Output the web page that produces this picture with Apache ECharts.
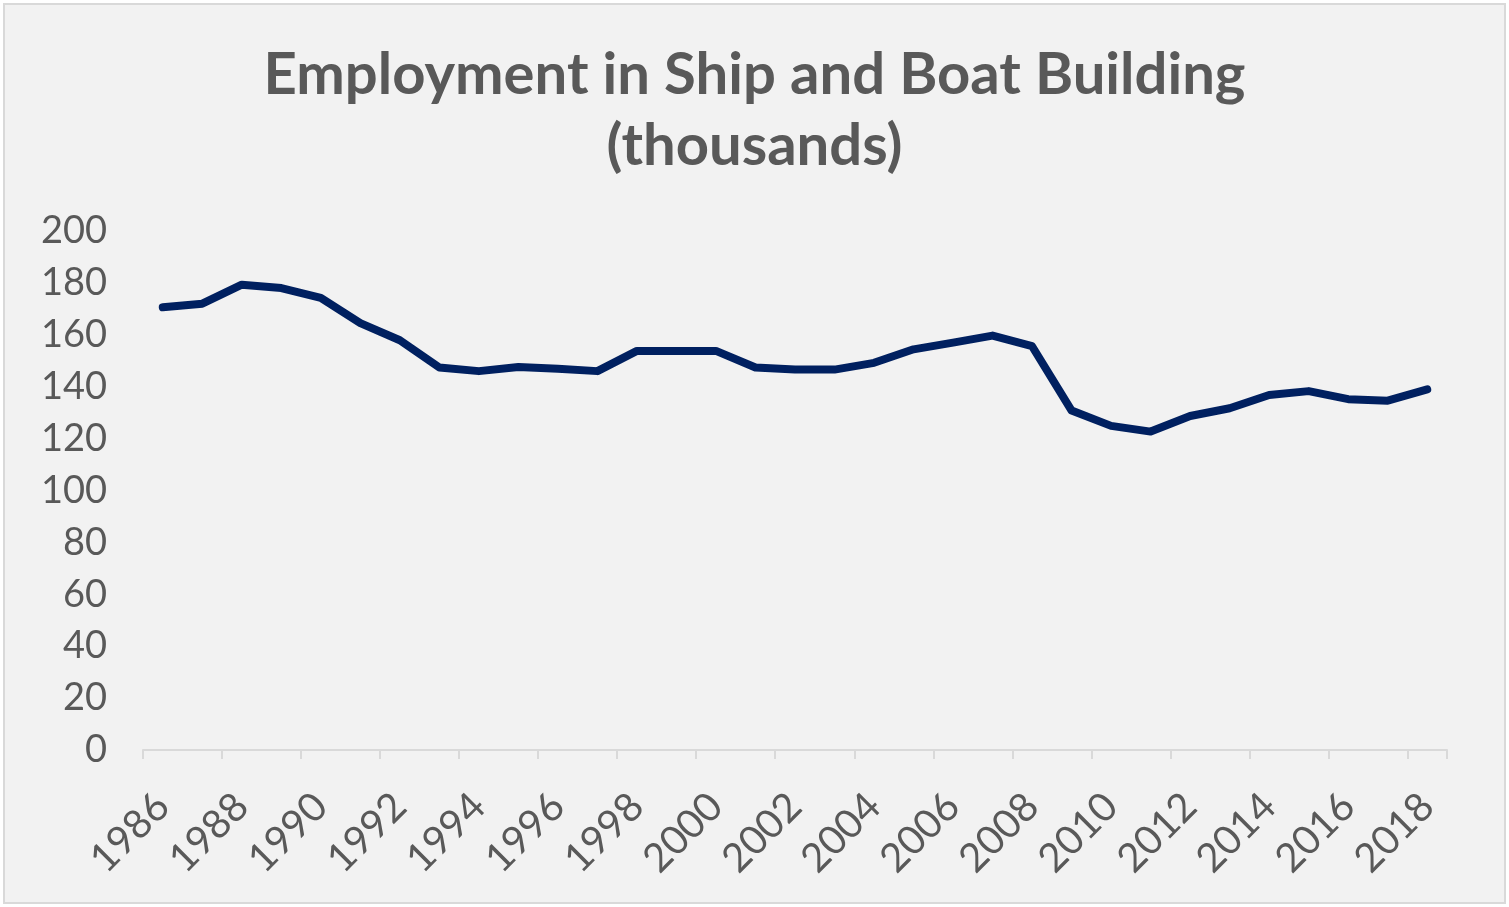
<!DOCTYPE html>
<html>
<head>
<meta charset="utf-8">
<script src="https://cdn.jsdelivr.net/npm/echarts@6/dist/echarts.min.js"></script>
<style>
  html, body { margin: 0; padding: 0; background: #ffffff; }
  #chart { position: absolute; left: 3px; top: 3px; width: 1503px; height: 901px; border: 2px solid #d9d9d9; box-sizing: border-box; background: #f2f2f2; }
</style>
</head>
<body>
<div id="chart"></div>
<script>
// years on the x axis
const years = []
for (let y = 1986; y <= 2018; y++) years.push(String(y))
// employment, thousands
const employment = [
  170.6, 172, 179.3, 178, 174.2, 164.5, 157.9, 147.4, 146, 147.6,
  146.9, 146, 153.8, 153.8, 153.8, 147.4, 146.6, 146.6, 149.2, 154.4,
  157, 159.7, 155.6, 130.8, 124.9, 122.7, 128.7, 131.7, 136.8, 138.3,
  135.2, 134.6, 139
]
const titleLines = ["Employment in Ship and Boat Building", "(thousands)"]

const textColor = "#595959"
const axisColor = "#d9d9d9"

let option = {
  backgroundColor: "#f2f2f2",
  textStyle: { fontFamily: "Lato" },
  title: {
    text: titleLines.join("\n"),
    left: "center",
    top: 30,
    textStyle: {
      fontFamily: "Lato",
      fontSize: 58,
      fontWeight: "bold",
      color: textColor,
      lineHeight: 71
    }
  },
  grid: {
    left: 138,
    right: 57,
    top: 226,
    bottom: 152
  },
  xAxis: {
    type: "category",
    data: years,
    boundaryGap: true,
    axisLine: {
      lineStyle: { color: axisColor, width: 2 }
    },
    axisTick: {
      show: true,
      length: 9,
      lineStyle: { color: axisColor, width: 2 }
    },
    axisLabel: {
      interval: 1,
      rotate: 45,
      fontSize: 40,
      color: textColor,
      margin: 50
    },
    splitLine: { show: false }
  },
  yAxis: {
    type: "value",
    min: 0,
    max: 200,
    interval: 20,
    axisLine: { show: false },
    axisTick: { show: false },
    splitLine: { show: false },
    axisLabel: {
      fontSize: 38,
      color: textColor,
      margin: 36
    }
  },
  series: [
    {
      type: "line",
      data: employment,
      showSymbol: false,
      lineStyle: {
        color: "#002060",
        width: 8,
        join: "round",
        cap: "round"
      },
      itemStyle: { color: "#002060" }
    }
  ]
}
const chartEl = echarts.init(document.getElementById("chart"))
chartEl.setOption(option)
</script>
</body>
</html>
